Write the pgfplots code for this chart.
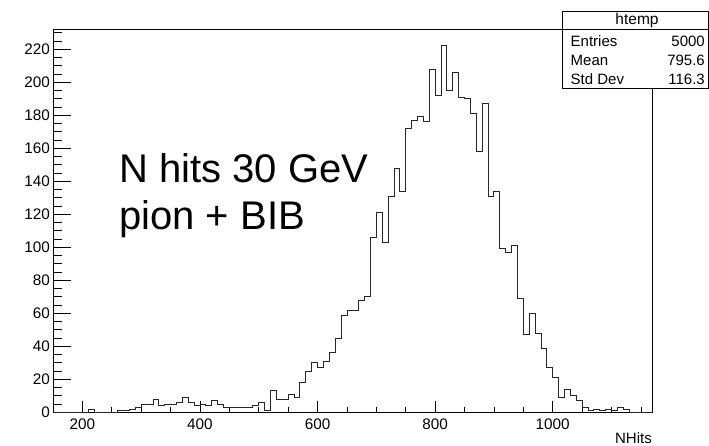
\documentclass[border=0pt]{standalone}
\usepackage{pgfplots}
\pgfplotsset{compat=1.18}
\usepackage{pgfplotstable}
\usepackage{fontspec}
\setmainfont{Liberation Sans}
\pgfplotstableread{
x y
150 0
160 0
170 0
180 0
190 0
200 0
210 2
220 0
230 0
240 0
250 0
260 1
270 1
280 2
290 3
300 5
310 5
320 8
330 4
340 5
350 5
360 6
370 9
380 6
390 4
400 5
410 4
420 7
430 5
440 3
450 3
460 3
470 3
480 3
490 4
500 6
510 1
520 13
530 8
540 8
550 11
560 9
570 18
580 25
590 30
600 27
610 31
620 36
630 45
640 59
650 62
660 62
670 68
680 70
690 106
700 121
710 103
720 131
730 148
740 134
750 172
760 177
770 179
780 176
790 208
800 192
810 222
820 195
830 206
840 191
850 190
860 181
870 158
880 187
890 131
900 134
910 99
920 97
930 101
940 69
950 47
960 60
970 48
980 39
990 27
1000 21
1010 9
1020 14
1030 10
1040 7
1050 3
1060 1
1070 2
1080 1
1090 2
1100 1
1110 3
1120 2
1130 0
1140 0
1150 0
1160 0
1170 0
}\histdata
\begin{document}
\begin{tikzpicture}[x=1pt,y=1pt]
\useasboundingbox (0,0) rectangle (709,445);
\begin{axis}[
  at={(53pt,32.7pt)}, anchor=south west,
  scale only axis, width=599.6pt, height=383.3pt,
  xmin=150, xmax=1170, ymin=0, ymax=232.2,
  xtick={0,200,...,1200}, ytick={0,20,...,240},
  minor x tick num=3, minor y tick num=3,
  tick pos=left, tick align=inside,
  axis line style={line width=0.8pt, black},
  xtick style={black, line width=0.6pt, /pgfplots/major tick length=11.5pt, /pgfplots/minor tick length=5.75pt},
  ytick style={black, line width=0.6pt, /pgfplots/major tick length=18pt, /pgfplots/minor tick length=9pt},
  /pgf/number format/assume math mode=true,
  /pgf/number format/set thousands separator={},
  xticklabel style={font=\fontsize{15.3}{15.3}\selectfont, inner sep=0pt, anchor=north, yshift=-6pt},
  yticklabel style={font=\fontsize{15.3}{15.3}\selectfont, inner sep=0pt, anchor=east, xshift=-3pt},
]
\addplot[const plot, black!85, line width=0.8pt] table[x=x, y=y] {\histdata};
\end{axis}
% title text
\node[anchor=base west, inner sep=0pt, font=\fontsize{40}{40}\selectfont] at (119,262.3) {N hits 30 GeV};
\node[anchor=base west, inner sep=0pt, font=\fontsize{40}{40}\selectfont] at (119,215) {pion + BIB};
% stats box
\draw[fill=white, line width=0.8pt] (562.5,357) rectangle (708.5,434);
\draw[line width=0.8pt] (562.5,416) -- (708.5,416);
\node[anchor=center, inner sep=0pt, font=\fontsize{15.5}{15.5}\selectfont] at (637,425) {htemp};
\node[anchor=base west, inner sep=0pt, font=\fontsize{15}{15}\selectfont] at (570.5,398.5) {Entries};
\node[anchor=base west, inner sep=0pt, font=\fontsize{15}{15}\selectfont] at (570.5,379) {Mean};
\node[anchor=base west, inner sep=0pt, font=\fontsize{15}{15}\selectfont] at (570.5,360.5) {Std Dev};
\node[anchor=base east, inner sep=0pt, font=\fontsize{15}{15}\selectfont] at (705,398.5) {5000};
\node[anchor=base east, inner sep=0pt, font=\fontsize{15}{15}\selectfont] at (705,379) {795.6};
\node[anchor=base east, inner sep=0pt, font=\fontsize{15}{15}\selectfont] at (705,360.5) {116.3};
% x label
\node[anchor=base east, inner sep=0pt, font=\fontsize{15}{15}\selectfont] at (652,2) {NHits};
\end{tikzpicture}
\end{document}
